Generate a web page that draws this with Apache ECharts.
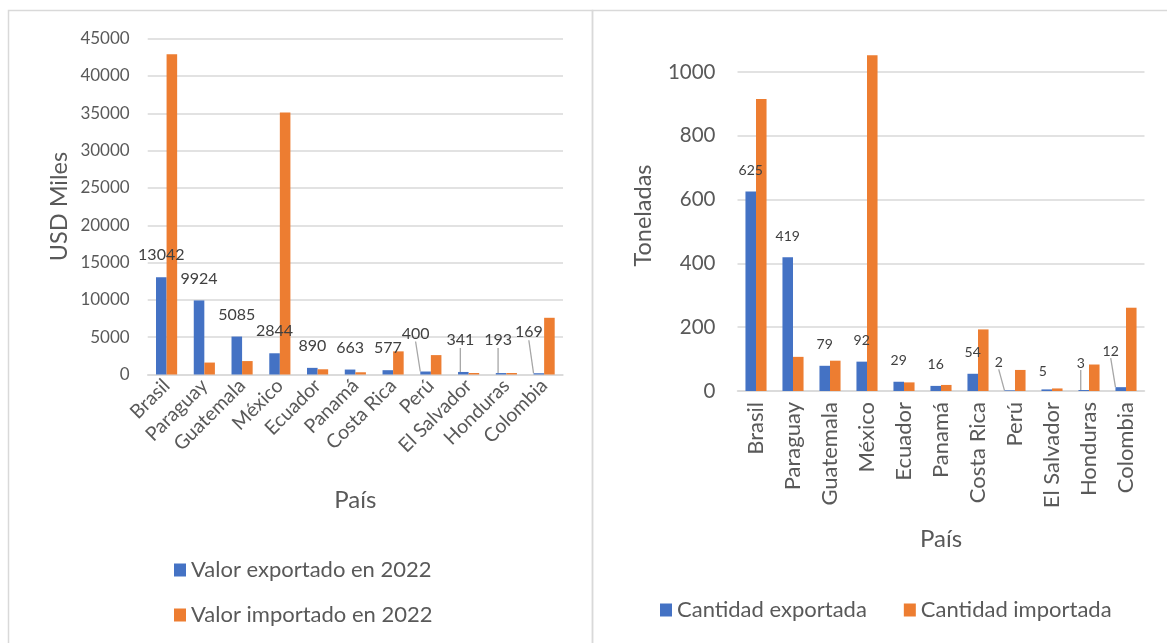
<!DOCTYPE html>
<html>
<head>
<meta charset="utf-8">
<script src="https://cdn.jsdelivr.net/npm/echarts@6/dist/echarts.min.js"></script>
<style>
html,body{margin:0;padding:0;background:#fff;}
#c{width:1167px;height:643px;}
</style>
</head>
<body>
<div id="c"></div>
<script>
// ---- data ----
const countries = ['Brasil','Paraguay','Guatemala','México','Ecuador','Panamá','Costa Rica','Perú','El Salvador','Honduras','Colombia'];
const valorExportado = [13042, 9924, 5085, 2844, 890, 663, 577, 400, 341, 193, 169];
const valorImportado = [42900, 1600, 1800, 35100, 700, 300, 3100, 2600, 200, 200, 7600];
const cantidadExportada = [625, 419, 79, 92, 29, 16, 54, 2, 5, 3, 12];
const cantidadImportada = [915, 107, 95, 1052, 27, 19, 193, 66, 8, 83, 261];
const usdAxis = {min: 0, max: 45000, interval: 5000};
const tonAxis = {min: 0, max: 1100, interval: 200};
const seriesNames = ['Valor exportado en 2022', 'Valor importado en 2022', 'Cantidad exportada', 'Cantidad importada'];

// ---- style ----
const FONT = 'Lato, "Open Sans", sans-serif';
const BLUE = '#4472C4', ORANGE = '#ED7D31', GRID = '#d9d9d9', TXT = '#595959', LBL = '#404040';
const leftShift = {7: [-10, -16], 8: [-3, -10], 9: [-3, -11], 10: [-10, -19]};
const rightShift = {7: [-11, -7], 8: [-4, 3], 9: [-3, -6], 10: [-10, -15]};
const leftLeader = [7, 8, 9, 10];
const rightLeader = [7, 9, 10];

function withLeaders(arr, leaders) {
  return arr.map((v, i) => leaders.includes(i) ? {value: v, labelLine: {show: true}} : v);
}
function layoutFrom(shift) {
  return function (p) {
    const s = shift[p.dataIndex];
    return s ? {dx: s[0], dy: s[1]} : {};
  };
}
const plain = v => String(v);

const chart = echarts.init(document.getElementById('c'), null, {renderer: 'canvas'});
const option = {
  animation: false,
  backgroundColor: '#fff',
  textStyle: {fontFamily: FONT},
  graphic: [
    {type: 'rect', shape: {x: 8.5, y: 10.5, width: 584, height: 700}, style: {fill: 'none', stroke: GRID, lineWidth: 1.5}, silent: true},
    {type: 'rect', shape: {x: 592.5, y: 10.5, width: 600, height: 700}, style: {fill: 'none', stroke: GRID, lineWidth: 1.5}, silent: true}
  ],
  legend: [
    {
      data: [seriesNames[0], seriesNames[1]],
      orient: 'vertical', left: 169, top: 554, itemGap: 23,
      itemWidth: 12, itemHeight: 13, icon: 'rect',
      textStyle: {fontFamily: FONT, fontSize: 22, color: TXT}
    },
    {
      data: [seriesNames[2], seriesNames[3]],
      orient: 'horizontal', left: 655, top: 594, itemGap: 37,
      itemWidth: 12, itemHeight: 13, icon: 'rect',
      textStyle: {fontFamily: FONT, fontSize: 22, color: TXT}
    }
  ],
  grid: [
    {left: 147.7, right: 604, top: 38.7, bottom: 268.5},
    {left: 737.5, right: 22.5, top: 40, bottom: 252}
  ],
  xAxis: [
    {
      type: 'category', gridIndex: 0, data: countries,
      axisLine: {lineStyle: {color: GRID, width: 1.5}}, axisTick: {show: false},
      axisLabel: {rotate: 45, margin: 8, fontSize: 19.5, color: TXT, fontFamily: FONT, interval: 0},
      name: 'País', nameLocation: 'middle', nameGap: 114,
      nameTextStyle: {fontSize: 24, color: TXT, fontFamily: FONT}
    },
    {
      type: 'category', gridIndex: 1, data: countries,
      axisLine: {lineStyle: {color: GRID, width: 1.5}}, axisTick: {show: false},
      axisLabel: {rotate: 90, margin: 11, fontSize: 22, color: TXT, fontFamily: FONT, interval: 0},
      name: 'País', nameLocation: 'middle', nameGap: 136,
      nameTextStyle: {fontSize: 24, color: TXT, fontFamily: FONT}
    }
  ],
  yAxis: [
    {
      type: 'value', gridIndex: 0, min: usdAxis.min, max: usdAxis.max, interval: usdAxis.interval,
      axisLine: {show: false}, axisTick: {show: false},
      splitLine: {lineStyle: {color: GRID, width: 1.5}},
      axisLabel: {fontSize: 17, color: TXT, fontFamily: FONT, margin: 18, formatter: plain},
      name: 'USD Miles', nameLocation: 'middle', nameGap: 76,
      nameTextStyle: {fontSize: 23.5, color: TXT, fontFamily: FONT}
    },
    {
      type: 'value', gridIndex: 1, min: tonAxis.min, max: tonAxis.max, interval: tonAxis.interval,
      axisLine: {show: false}, axisTick: {show: false},
      splitLine: {lineStyle: {color: GRID, width: 1.5}, showMaxLine: false},
      axisLabel: {fontSize: 20.5, color: TXT, fontFamily: FONT, margin: 22, showMaxLabel: false, formatter: plain},
      name: 'Toneladas', nameLocation: 'middle', nameGap: 82,
      nameTextStyle: {fontSize: 23.5, color: TXT, fontFamily: FONT}
    }
  ],
  series: [
    {
      name: seriesNames[0], type: 'bar', xAxisIndex: 0, yAxisIndex: 0,
      data: withLeaders(valorExportado, leftLeader),
      itemStyle: {color: BLUE}, barGap: '0%', barCategoryGap: '44%',
      label: {show: true, position: 'top', distance: 14, fontSize: 16, color: LBL, fontFamily: FONT},
      labelLine: {show: false, lineStyle: {color: '#a6a6a6', width: 1.3}},
      labelLayout: layoutFrom(leftShift)
    },
    {
      name: seriesNames[1], type: 'bar', xAxisIndex: 0, yAxisIndex: 0,
      data: valorImportado, itemStyle: {color: ORANGE}, barGap: '0%', barCategoryGap: '44%'
    },
    {
      name: seriesNames[2], type: 'bar', xAxisIndex: 1, yAxisIndex: 1,
      data: withLeaders(cantidadExportada, rightLeader),
      itemStyle: {color: BLUE}, barGap: '0%', barCategoryGap: '43%',
      label: {show: true, position: 'top', distance: 14, fontSize: 14, color: LBL, fontFamily: FONT},
      labelLine: {show: false, lineStyle: {color: '#a6a6a6', width: 1.3}},
      labelLayout: layoutFrom(rightShift)
    },
    {
      name: seriesNames[3], type: 'bar', xAxisIndex: 1, yAxisIndex: 1,
      data: cantidadImportada, itemStyle: {color: ORANGE}, barGap: '0%', barCategoryGap: '43%'
    }
  ]
};
chart.setOption(option);
</script>
</body>
</html>
